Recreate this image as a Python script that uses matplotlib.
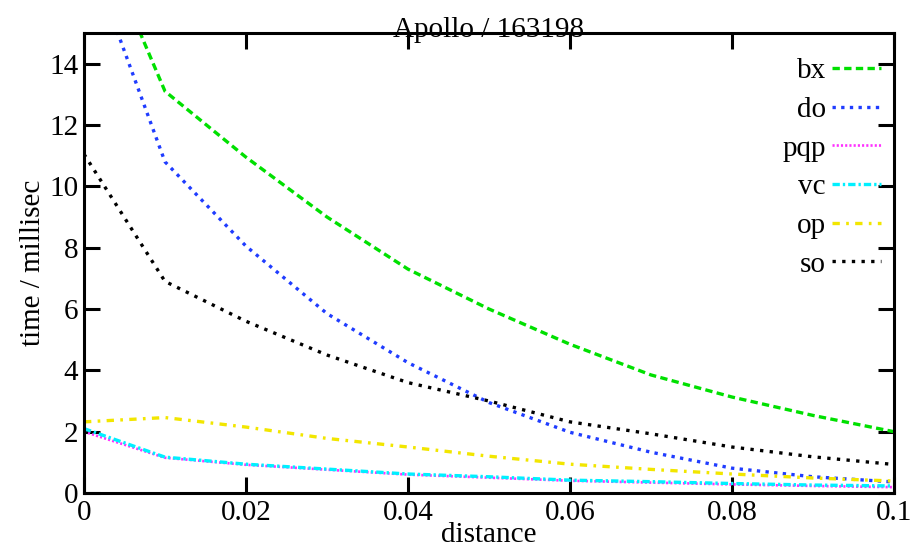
import matplotlib
matplotlib.use('Agg')
import matplotlib.pyplot as plt
from matplotlib.ticker import FormatStrFormatter

distance = [0.0, 0.01, 0.02, 0.03, 0.04, 0.05, 0.06, 0.07, 0.08, 0.09, 0.1]

bx = [19.3, 13.1, 10.95, 9.0, 7.3, 6.0, 4.85, 3.85, 3.13, 2.53, 2.0]
do = [18.0, 10.8, 8.05, 5.85, 4.25, 2.95, 1.98, 1.33, 0.81, 0.53, 0.36]
pqp = [2.0, 1.15, 0.92, 0.76, 0.6, 0.5, 0.4, 0.34, 0.28, 0.23, 0.19]
vc = [2.1, 1.17, 0.94, 0.78, 0.62, 0.53, 0.42, 0.37, 0.31, 0.26, 0.23]
op = [2.32, 2.46, 2.15, 1.78, 1.5, 1.2, 0.94, 0.77, 0.62, 0.49, 0.39]
so = [11.05, 6.9, 5.6, 4.5, 3.6, 3.0, 2.32, 1.93, 1.5, 1.18, 0.93]

plt.rcParams['font.family'] = ['Liberation Serif', 'DejaVu Serif']
fs = 21

fig = plt.figure(figsize=(9.22, 5.47), dpi=100)
ax = fig.add_axes([0.0911, 0.0987, 0.8785, 0.841])

lw = 2.4
ax.plot(distance, bx, color='#00e000', lw=lw, dashes=(2.2, 1.3), label='bx')
ax.plot(distance, do, color='#1f3cff', lw=lw, dashes=(1.0, 1.6), label='do')
ax.plot(distance, pqp, color='#ff30ff', lw=1.9, dashes=(0.8, 0.8), label='pqp')
ax.plot(distance, vc, color='#00f0ff', lw=lw, dashes=(2.2, 0.9, 0.7, 0.9), label='vc')
ax.plot(distance, op, color='#f2e600', lw=lw, dashes=(2.2, 1.9, 0.8, 1.9), label='op')
ax.plot(distance, so, color='black', lw=lw, dashes=(1.0, 1.9), label='so')

ax.set_xlim(0, 0.1)
ax.set_ylim(0, 15)
ax.set_xticks([0, 0.02, 0.04, 0.06, 0.08, 0.1])
ax.set_yticks(range(0, 15, 2))
ax.xaxis.set_major_formatter(FormatStrFormatter('%g'))
ax.tick_params(direction='in', length=11.5, width=2.2, labelsize=fs,
               top=True, right=True)
ax.tick_params(axis='x', pad=5)
ax.tick_params(axis='y', pad=4)
for s in ax.spines.values():
    s.set_linewidth(2.2)

ax.set_title('Apollo / 163198', fontsize=fs, pad=-3)
ax.set_xlabel('distance', fontsize=fs, labelpad=-3)
ax.set_ylabel('time / millisec', fontsize=fs, labelpad=2)

ax.legend(loc='upper right', frameon=False, markerfirst=False, fontsize=fs,
          handlelength=1.7, labelspacing=0.42, handletextpad=0.2,
          borderaxespad=0.0, borderpad=0.3, bbox_to_anchor=(0.995, 0.965))

fig.savefig('out.png', dpi=100)
